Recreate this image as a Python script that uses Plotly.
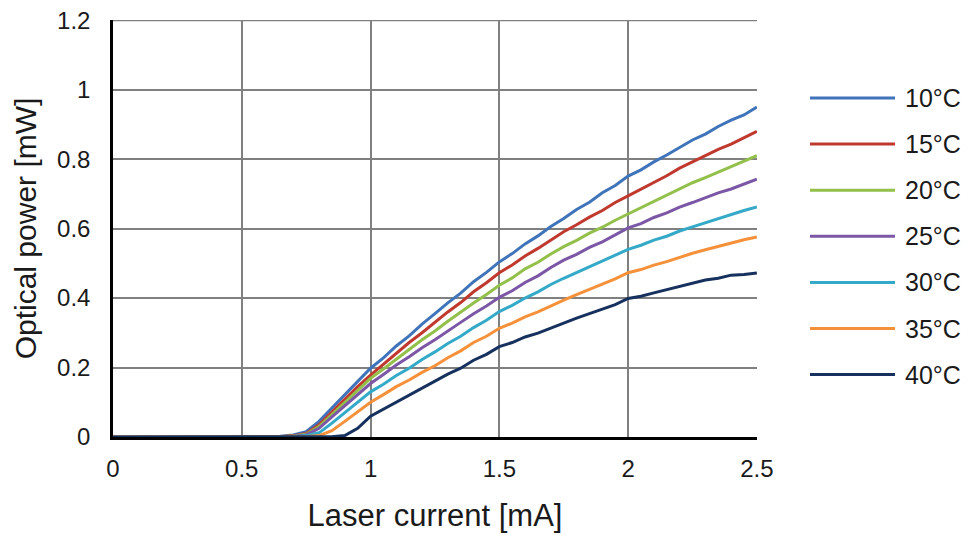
import plotly.graph_objects as go

current = [0.0, 0.1, 0.2, 0.3, 0.4, 0.5, 0.6, 0.65, 0.7, 0.75, 0.8, 0.85, 0.9, 0.95,
           1.0, 1.05, 1.1, 1.15, 1.2, 1.25, 1.3, 1.35, 1.4, 1.45, 1.5, 1.55, 1.6, 1.65,
           1.7, 1.75, 1.8, 1.85, 1.9, 1.95, 2.0, 2.05, 2.1, 2.15, 2.2, 2.25, 2.3, 2.35,
           2.4, 2.45, 2.5]

p10 = [0, 0, 0, 0, 0, 0, 0, 0.002, 0.006, 0.015, 0.045, 0.083, 0.122, 0.162,
       0.198, 0.228, 0.262, 0.291, 0.325, 0.355, 0.386, 0.414, 0.447, 0.474, 0.504, 0.528, 0.556, 0.579,
       0.606, 0.629, 0.655, 0.676, 0.703, 0.724, 0.751, 0.769, 0.792, 0.812, 0.834, 0.855, 0.872, 0.894,
       0.912, 0.927, 0.950]
p15 = [0, 0, 0, 0, 0, 0, 0, 0.001, 0.004, 0.010, 0.035, 0.072, 0.108, 0.145,
       0.178, 0.210, 0.240, 0.272, 0.300, 0.330, 0.360, 0.387, 0.418, 0.444, 0.473, 0.495, 0.521, 0.543,
       0.568, 0.591, 0.611, 0.633, 0.652, 0.675, 0.694, 0.713, 0.734, 0.752, 0.774, 0.792, 0.809, 0.828,
       0.843, 0.862, 0.880]
p20 = [0, 0, 0, 0, 0, 0, 0, 0.001, 0.003, 0.008, 0.030, 0.065, 0.100, 0.135,
       0.169, 0.196, 0.225, 0.252, 0.280, 0.305, 0.333, 0.360, 0.386, 0.410, 0.437, 0.458, 0.484, 0.503,
       0.527, 0.548, 0.566, 0.587, 0.604, 0.624, 0.642, 0.661, 0.678, 0.697, 0.713, 0.732, 0.747, 0.763,
       0.779, 0.793, 0.810]
p25 = [0, 0, 0, 0, 0, 0, 0, 0.000, 0.002, 0.006, 0.025, 0.058, 0.090, 0.123,
       0.154, 0.180, 0.207, 0.231, 0.257, 0.280, 0.306, 0.330, 0.355, 0.377, 0.402, 0.421, 0.445, 0.464,
       0.488, 0.509, 0.526, 0.546, 0.562, 0.583, 0.602, 0.614, 0.632, 0.645, 0.662, 0.675, 0.689, 0.703,
       0.714, 0.729, 0.742]
p30 = [0, 0, 0, 0, 0, 0, 0, 0.000, 0.001, 0.004, 0.012, 0.040, 0.070, 0.100,
       0.130, 0.152, 0.177, 0.198, 0.223, 0.245, 0.269, 0.290, 0.315, 0.336, 0.361, 0.379, 0.400, 0.418,
       0.439, 0.457, 0.474, 0.491, 0.506, 0.524, 0.540, 0.552, 0.567, 0.578, 0.593, 0.605, 0.617, 0.629,
       0.639, 0.652, 0.662]
p35 = [0, 0, 0, 0, 0, 0, 0, 0.000, 0.000, 0.001, 0.004, 0.018, 0.045, 0.073,
       0.100, 0.122, 0.145, 0.164, 0.186, 0.205, 0.228, 0.248, 0.272, 0.290, 0.313, 0.328, 0.346, 0.360,
       0.378, 0.394, 0.410, 0.424, 0.440, 0.455, 0.473, 0.482, 0.495, 0.505, 0.518, 0.529, 0.539, 0.549,
       0.557, 0.568, 0.576]
p40 = [0, 0, 0, 0, 0, 0, 0, 0.000, 0.000, 0.000, 0.000, 0.001, 0.004, 0.025,
       0.060, 0.080, 0.102, 0.120, 0.142, 0.160, 0.181, 0.198, 0.221, 0.238, 0.260, 0.272, 0.288, 0.299,
       0.314, 0.327, 0.342, 0.355, 0.369, 0.381, 0.399, 0.405, 0.415, 0.424, 0.435, 0.442, 0.452, 0.457,
       0.466, 0.468, 0.472]

names = ["10°C", "15°C", "20°C", "25°C", "30°C", "35°C", "40°C"]
series = [p10, p15, p20, p25, p30, p35, p40]
colors = ["#3F74BA", "#C0392F", "#92C04A", "#7B57A6", "#35A9C8", "#F5913A", "#16315E"]

x_ticks = [0, 0.5, 1, 1.5, 2, 2.5]
x_tick_labels = ["0", "0.5", "1", "1.5", "2", "2.5"]
y_ticks = [0, 0.2, 0.4, 0.6, 0.8, 1.0, 1.2]
y_tick_labels = ["0", "0.2", "0.4", "0.6", "0.8", "1", "1.2"]

fig = go.Figure()
for nm, ys, c in zip(names, series, colors):
    fig.add_trace(go.Scatter(x=current, y=ys, mode="lines", name=nm,
                             line=dict(color=c, width=3), showlegend=False))

font = "Liberation Sans, Arial, sans-serif"
txt = "#1a1a1a"
grid = "#808080"
# page body has an 8px margin: figure is laid out in page coords minus 8
OFF = 8
W, H = 970 - OFF, 536 - OFF
ml, mt = 113 - OFF, 20 - OFF
pw, ph = 644, 417
mr, mb = W - ml - pw, H - mt - ph

def px_to_paper_x(px):
    return (px - OFF - ml) / pw

def py_to_paper_y(py):
    return (mt + ph - (py - OFF)) / ph

# top border of the plot area (gridline at 1.2)
shapes = [dict(type="line", xref="paper", yref="y", x0=0, x1=1, y0=y_ticks[-1], y1=y_ticks[-1],
               line=dict(color=grid, width=2), layer="below")]
annotations = []
leg_y0 = 98
leg_dy = 46.1
for i, (nm, c) in enumerate(zip(names, colors)):
    yp = py_to_paper_y(leg_y0 + i * leg_dy)
    shapes.append(dict(type="line", xref="paper", yref="paper",
                       x0=px_to_paper_x(810), x1=px_to_paper_x(895), y0=yp, y1=yp,
                       line=dict(color=c, width=3)))
    annotations.append(dict(xref="paper", yref="paper", x=px_to_paper_x(903), y=yp, text=nm,
                            showarrow=False, xanchor="left", yanchor="middle",
                            font=dict(family=font, size=25, color=txt)))

fig.update_layout(
    width=W, height=H,
    margin=dict(l=ml, r=mr, t=mt, b=mb, autoexpand=False),
    paper_bgcolor="white", plot_bgcolor="white",
    shapes=shapes, annotations=annotations,
    xaxis=dict(range=[0, 2.5005], tickvals=x_ticks, ticktext=x_tick_labels,
               showgrid=True, gridcolor=grid, gridwidth=2,
               showline=True, linecolor="#000000", linewidth=3,
               ticks="", ticklabelstandoff=8, zeroline=False, automargin=False,
               ticklabeloverflow="allow",
               tickfont=dict(family=font, size=24, color=txt),
               title=dict(text="Laser current [mA]", standoff=24,
                          font=dict(family=font, size=31, color=txt))),
    yaxis=dict(range=[0, 1.2005], tickvals=y_ticks, ticktext=y_tick_labels,
               showgrid=True, gridcolor=grid, gridwidth=2,
               showline=True, linecolor="#000000", linewidth=2.5,
               ticks="", ticklabelstandoff=15, zeroline=False, automargin=False,
               ticklabeloverflow="allow",
               tickfont=dict(family=font, size=24, color=txt),
               title=dict(text="Optical power [mW]", standoff=12,
                          font=dict(family=font, size=30, color=txt))),
)

fig.write_html("out.html")
